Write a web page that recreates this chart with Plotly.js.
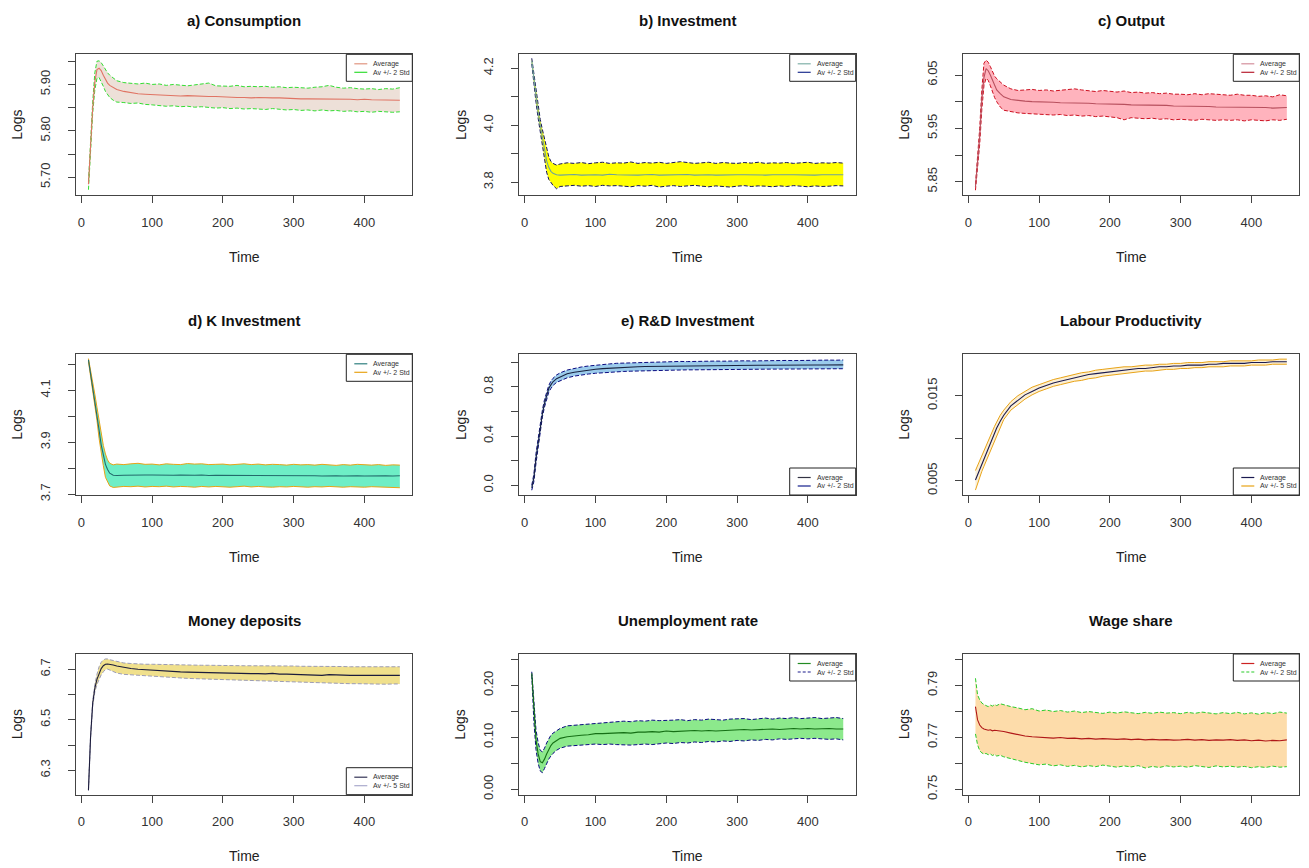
<!DOCTYPE html>
<html>
<head>
<meta charset="utf-8">
<script src="https://cdn.plot.ly/plotly-3.0.1.min.js"></script>
<style>html,body{margin:0;padding:0;background:#fff;}#chart{width:1309px;height:868px;}</style>
</head>
<body>
<div id="chart"></div>
<script>
// Simulation time steps (dense at the start, where the transients are fast)
const time = [10,13,16,19,22,25,28,31,34,37,40,45,50,
  60,70,80,90,100,110,120,130,140,150,
  160,170,180,190,200,210,220,230,240,250,
  260,270,280,290,300,310,320,330,340,350,
  360,370,380,390,400,410,420,430,440,450];
const timeTicks = [0,100,200,300,400];

// a) Consumption
const consumptionAvg = [5.685,5.78,5.85,5.905,5.932,5.935,5.93,5.92,5.91,5.903,5.898,5.893,5.889,
  5.885,5.882,5.880,5.879,5.878,5.877,5.876,5.875,5.875,5.876,
  5.875,5.875,5.874,5.874,5.873,5.873,5.872,5.872,5.871,5.872,
  5.871,5.871,5.871,5.870,5.870,5.869,5.869,5.869,5.868,5.869,
  5.868,5.868,5.868,5.867,5.868,5.867,5.867,5.866,5.867,5.866];
const consumptionUp = [5.69,5.79,5.862,5.925,5.950,5.951,5.947,5.94,5.932,5.925,5.92,5.913,5.908,
  5.904,5.903,5.901,5.903,5.900,5.901,5.898,5.900,5.899,5.897,
  5.899,5.901,5.903,5.897,5.897,5.896,5.898,5.895,5.896,5.895,
  5.896,5.894,5.895,5.893,5.894,5.893,5.892,5.894,5.895,5.898,
  5.894,5.892,5.893,5.891,5.890,5.891,5.889,5.891,5.890,5.893];
const consumptionLo = [5.673,5.77,5.838,5.888,5.913,5.915,5.907,5.896,5.885,5.877,5.872,5.866,5.862,
  5.861,5.859,5.860,5.857,5.856,5.855,5.853,5.854,5.852,5.853,
  5.851,5.852,5.850,5.849,5.850,5.848,5.849,5.847,5.848,5.847,
  5.846,5.848,5.846,5.845,5.846,5.844,5.845,5.843,5.845,5.843,
  5.844,5.842,5.843,5.841,5.842,5.840,5.842,5.841,5.840,5.841];
const consumptionTicks = [5.70,5.75,5.80,5.85,5.90,5.95];
const consumptionTickText = ['5.70','','5.80','','5.90',''];

// b) Investment
const investmentAvg = [4.225,4.16,4.10,4.045,4.0,3.955,3.91,3.875,3.852,3.838,3.831,3.826,3.825,
  3.826,3.827,3.825,3.826,3.826,3.825,3.828,3.826,3.825,3.826,
  3.825,3.826,3.827,3.825,3.826,3.825,3.826,3.827,3.825,3.826,
  3.826,3.825,3.826,3.825,3.826,3.826,3.825,3.826,3.825,3.826,
  3.825,3.826,3.826,3.825,3.826,3.825,3.826,3.825,3.826,3.826];
const investmentUp = [4.235,4.18,4.12,4.065,4.02,3.985,3.95,3.918,3.89,3.873,3.866,3.86,3.864,
  3.868,3.866,3.869,3.865,3.868,3.870,3.866,3.868,3.867,3.871,
  3.866,3.869,3.867,3.870,3.866,3.868,3.872,3.869,3.866,3.868,
  3.870,3.866,3.869,3.867,3.866,3.869,3.867,3.870,3.866,3.868,
  3.867,3.869,3.866,3.868,3.870,3.866,3.868,3.867,3.869,3.867];
const investmentLo = [4.215,4.14,4.08,4.025,3.975,3.93,3.875,3.835,3.81,3.797,3.789,3.777,3.785,
  3.787,3.789,3.786,3.788,3.785,3.789,3.787,3.788,3.786,3.784,
  3.788,3.786,3.789,3.783,3.786,3.788,3.785,3.787,3.789,3.786,
  3.784,3.787,3.785,3.783,3.786,3.788,3.785,3.787,3.786,3.784,
  3.787,3.785,3.788,3.786,3.784,3.787,3.785,3.786,3.788,3.787];
const investmentTicks = [3.8,3.9,4.0,4.1,4.2];
const investmentTickText = ['3.8','','4.0','','4.2'];

// c) Output
const outputAvg = [5.840,5.885,5.935,6.005,6.045,6.062,6.058,6.05,6.04,6.03,6.022,6.015,6.009,
  6.004,6.002,6.001,6.000,6.000,5.999,5.999,5.998,5.998,5.998,
  5.997,5.997,5.996,5.996,5.996,5.995,5.995,5.994,5.994,5.994,
  5.993,5.993,5.993,5.992,5.992,5.992,5.991,5.991,5.991,5.990,
  5.990,5.990,5.990,5.989,5.989,5.989,5.989,5.988,5.988,5.989];
const outputUp = [5.845,5.895,5.95,6.022,6.072,6.078,6.074,6.066,6.056,6.048,6.043,6.036,6.031,
  6.024,6.021,6.022,6.023,6.021,6.022,6.020,6.021,6.023,6.024,
  6.022,6.020,6.019,6.021,6.019,6.018,6.020,6.017,6.018,6.016,
  6.017,6.015,6.016,6.014,6.014,6.013,6.015,6.013,6.015,6.014,
  6.013,6.012,6.014,6.012,6.012,6.010,6.011,6.009,6.013,6.011];
const outputLo = [5.834,5.875,5.92,5.985,6.03,6.044,6.04,6.03,6.018,6.008,6.0,5.99,5.984,
  5.981,5.979,5.978,5.977,5.977,5.976,5.975,5.976,5.974,5.975,
  5.973,5.974,5.972,5.973,5.971,5.970,5.966,5.970,5.969,5.968,
  5.969,5.967,5.968,5.966,5.967,5.966,5.965,5.967,5.966,5.965,
  5.966,5.965,5.966,5.964,5.966,5.965,5.964,5.966,5.965,5.967];
const outputTicks = [5.85,5.90,5.95,6.00,6.05];
const outputTickText = ['5.85','','5.95','','6.05'];

// d) K Investment
const kInvAvg = [4.217,4.165,4.12,4.065,4.01,3.947,3.89,3.85,3.815,3.795,3.781,3.773,3.772,
  3.773,3.774,3.775,3.774,3.774,3.773,3.774,3.773,3.774,3.773,
  3.773,3.774,3.772,3.773,3.773,3.772,3.773,3.772,3.773,3.772,
  3.772,3.773,3.771,3.772,3.772,3.771,3.772,3.771,3.770,3.771,
  3.771,3.770,3.771,3.771,3.770,3.771,3.770,3.771,3.770,3.771];
const kInvUp = [4.222,4.18,4.135,4.085,4.035,3.98,3.925,3.888,3.855,3.832,3.819,3.813,3.816,
  3.814,3.817,3.819,3.815,3.816,3.813,3.817,3.815,3.814,3.818,
  3.816,3.817,3.814,3.815,3.816,3.813,3.815,3.817,3.814,3.816,
  3.813,3.815,3.814,3.812,3.815,3.813,3.814,3.812,3.815,3.813,
  3.811,3.814,3.812,3.815,3.813,3.812,3.814,3.811,3.813,3.812];
const kInvLo = [4.21,4.155,4.105,4.045,3.985,3.915,3.855,3.81,3.765,3.745,3.732,3.726,3.728,
  3.730,3.729,3.731,3.728,3.730,3.729,3.731,3.728,3.730,3.729,
  3.727,3.730,3.728,3.730,3.729,3.727,3.729,3.731,3.728,3.730,
  3.728,3.727,3.729,3.728,3.730,3.728,3.727,3.729,3.728,3.730,
  3.728,3.727,3.729,3.728,3.727,3.729,3.728,3.727,3.726,3.725];
const kInvTicks = [3.7,3.8,3.9,4.0,4.1,4.2];
const kInvTickText = ['3.7','','3.9','','4.1',''];

// e) R&D Investment
const rdAvg = [-0.02,0.06,0.22,0.35,0.47,0.58,0.665,0.73,0.785,0.815,0.84,0.865,0.88,
  0.905,0.918,0.928,0.936,0.942,0.947,0.951,0.955,0.958,0.961,
  0.962,0.964,0.965,0.966,0.967,0.968,0.969,0.969,0.970,0.971,
  0.971,0.972,0.972,0.973,0.973,0.973,0.974,0.974,0.974,0.975,
  0.975,0.975,0.975,0.976,0.976,0.976,0.976,0.977,0.977,0.977];
const rdUp = [0.0,0.09,0.26,0.39,0.5,0.61,0.695,0.76,0.81,0.845,0.868,0.895,0.912,
  0.935,0.950,0.960,0.968,0.975,0.980,0.985,0.990,0.992,0.995,
  0.997,0.999,1.000,1.002,1.003,1.002,1.005,1.004,1.006,1.007,
  1.006,1.008,1.007,1.009,1.009,1.010,1.009,1.011,1.010,1.012,
  1.011,1.013,1.012,1.014,1.013,1.015,1.014,1.016,1.015,1.017];
const rdLo = [-0.04,0.03,0.18,0.31,0.44,0.555,0.635,0.70,0.755,0.785,0.81,0.835,0.848,
  0.872,0.886,0.896,0.903,0.909,0.914,0.918,0.921,0.924,0.926,
  0.928,0.930,0.931,0.933,0.934,0.935,0.936,0.937,0.937,0.938,
  0.939,0.939,0.940,0.940,0.941,0.941,0.942,0.942,0.942,0.943,
  0.943,0.943,0.944,0.944,0.944,0.945,0.945,0.945,0.945,0.946];
const rdTicks = [0.0,0.2,0.4,0.6,0.8,1.0];
const rdTickText = ['0.0','','0.4','','0.8',''];

// Labour Productivity
const prodAvg = [0.00508,0.0057,0.0064,0.0070,0.0076,0.0082,0.0088,0.0094,0.0100,0.0106,0.0112,0.0120,0.0127,
  0.0138,0.0145,0.0151,0.0155,0.0159,0.0162,0.0165,0.0167,0.0169,0.0171,
  0.0173,0.0175,0.0176,0.0177,0.0178,0.0179,0.0180,0.0181,0.0182,0.0182,
  0.0183,0.0184,0.0184,0.0185,0.0185,0.0186,0.0186,0.0186,0.0187,0.0187,
  0.0188,0.0188,0.0188,0.0188,0.0189,0.0189,0.0189,0.0190,0.0190,0.0190];
const prodUp = [0.0062,0.0068,0.0074,0.0080,0.0086,0.0092,0.0098,0.0103,0.0109,0.0114,0.0119,0.0127,0.0133,
  0.0143,0.0150,0.0155,0.0160,0.0163,0.0166,0.0169,0.0171,0.0173,0.0175,
  0.0177,0.0178,0.0180,0.0181,0.0182,0.0183,0.0184,0.0184,0.0185,0.0186,
  0.0186,0.0187,0.0187,0.0188,0.0188,0.0189,0.0189,0.0189,0.0190,0.0190,
  0.0190,0.0191,0.0191,0.0191,0.0191,0.0192,0.0192,0.0192,0.0193,0.0193];
const prodLo = [0.0039,0.0047,0.0055,0.0061,0.0067,0.0073,0.0080,0.0086,0.0092,0.0098,0.0104,0.0114,0.0122,
  0.0133,0.0140,0.0146,0.0151,0.0155,0.0158,0.0161,0.0163,0.0165,0.0167,
  0.0168,0.0170,0.0171,0.0173,0.0174,0.0175,0.0176,0.0177,0.0178,0.0179,
  0.0179,0.0180,0.0181,0.0181,0.0182,0.0182,0.0183,0.0183,0.0184,0.0184,
  0.0184,0.0185,0.0185,0.0185,0.0186,0.0186,0.0186,0.0187,0.0187,0.0187];
const prodTicks = [0.005,0.010,0.015];
const prodTickText = ['0.005','','0.015'];

// Money deposits
const moneyAvg = [6.222,6.433,6.565,6.625,6.66,6.684,6.703,6.714,6.72,6.721,6.72,6.717,6.713,
  6.707,6.703,6.700,6.698,6.697,6.695,6.693,6.691,6.690,6.689,
  6.688,6.687,6.686,6.685,6.685,6.684,6.684,6.683,6.683,6.683,
  6.682,6.684,6.681,6.681,6.680,6.679,6.679,6.678,6.676,6.679,
  6.677,6.677,6.676,6.676,6.676,6.676,6.676,6.676,6.676,6.676];
const moneyUp = [6.226,6.44,6.575,6.64,6.68,6.71,6.728,6.737,6.741,6.741,6.738,6.734,6.730,
  6.725,6.723,6.721,6.720,6.720,6.719,6.718,6.718,6.717,6.717,
  6.716,6.716,6.716,6.715,6.715,6.715,6.714,6.714,6.714,6.714,
  6.713,6.714,6.713,6.715,6.713,6.712,6.712,6.711,6.712,6.714,
  6.711,6.711,6.710,6.710,6.710,6.710,6.710,6.711,6.710,6.710];
const moneyLo = [6.218,6.426,6.555,6.61,6.64,6.66,6.678,6.69,6.699,6.701,6.697,6.690,6.685,
  6.680,6.678,6.676,6.675,6.674,6.672,6.670,6.668,6.666,6.664,
  6.663,6.662,6.660,6.659,6.658,6.657,6.656,6.655,6.654,6.653,
  6.652,6.653,6.651,6.650,6.649,6.648,6.647,6.646,6.645,6.646,
  6.644,6.644,6.643,6.643,6.642,6.642,6.642,6.641,6.642,6.642];
const moneyTicks = [6.3,6.4,6.5,6.6,6.7];
const moneyTickText = ['6.3','','6.5','','6.7'];

// Unemployment rate
const unempAvg = [0.223,0.146,0.095,0.068,0.053,0.051,0.058,0.068,0.077,0.084,0.089,0.094,0.098,
  0.101,0.103,0.104,0.105,0.107,0.107,0.108,0.109,0.109,0.108,
  0.110,0.110,0.111,0.110,0.112,0.111,0.112,0.112,0.113,0.112,
  0.113,0.112,0.113,0.114,0.114,0.115,0.114,0.115,0.115,0.116,
  0.115,0.116,0.117,0.116,0.117,0.116,0.117,0.117,0.116,0.116];
const unempUp = [0.226,0.16,0.114,0.09,0.075,0.072,0.079,0.089,0.097,0.104,0.108,0.113,0.117,
  0.122,0.123,0.125,0.126,0.127,0.128,0.129,0.130,0.131,0.130,
  0.132,0.131,0.133,0.132,0.132,0.133,0.134,0.132,0.134,0.133,
  0.135,0.134,0.133,0.135,0.135,0.136,0.134,0.136,0.137,0.135,
  0.137,0.136,0.138,0.136,0.137,0.138,0.136,0.137,0.138,0.136];
const unempLo = [0.220,0.13,0.076,0.05,0.035,0.032,0.04,0.05,0.058,0.064,0.069,0.075,0.079,
  0.083,0.084,0.085,0.086,0.087,0.086,0.087,0.086,0.085,0.085,
  0.086,0.087,0.086,0.088,0.089,0.088,0.090,0.089,0.091,0.090,
  0.092,0.091,0.093,0.092,0.094,0.093,0.095,0.094,0.096,0.095,
  0.097,0.096,0.097,0.098,0.097,0.098,0.097,0.096,0.097,0.095];
const unempTicks = [0.00,0.05,0.10,0.15,0.20,0.25];
const unempTickText = ['0.00','','0.10','','0.20',''];

// Wage share
const wageAvg = [0.7818,0.7767,0.7747,0.7737,0.7732,0.7730,0.7727,0.7729,0.7725,0.7727,0.7726,0.7724,0.7722,
  0.7716,0.7710,0.7705,0.7702,0.7700,0.7698,0.7697,0.7699,0.7696,0.7697,
  0.7694,0.7696,0.7693,0.7695,0.7694,0.7692,0.7694,0.7691,0.7693,0.7690,
  0.7692,0.7690,0.7691,0.7689,0.7690,0.7692,0.7689,0.7691,0.7688,0.7690,
  0.7689,0.7691,0.7688,0.7690,0.7687,0.7689,0.7686,0.7688,0.7687,0.7690];
const wageUp = [0.7927,0.7863,0.7844,0.7832,0.7826,0.7822,0.7818,0.7824,0.7820,0.7826,0.7822,0.7829,0.7825,
  0.7818,0.7813,0.7806,0.7810,0.7801,0.7805,0.7799,0.7803,0.7797,0.7801,
  0.7795,0.7799,0.7796,0.7792,0.7797,0.7793,0.7798,0.7794,0.7791,0.7796,
  0.7792,0.7797,0.7793,0.7795,0.7791,0.7796,0.7792,0.7797,0.7793,0.7790,
  0.7795,0.7791,0.7796,0.7790,0.7794,0.7789,0.7795,0.7791,0.7797,0.7793];
const wageLo = [0.7713,0.7671,0.7649,0.7640,0.7636,0.7638,0.7633,0.7636,0.7630,0.7634,0.7628,0.7631,0.7625,
  0.7617,0.7611,0.7604,0.7598,0.7594,0.7597,0.7590,0.7594,0.7588,0.7592,
  0.7586,0.7591,0.7587,0.7593,0.7589,0.7585,0.7590,0.7586,0.7591,0.7582,
  0.7588,0.7584,0.7590,0.7586,0.7589,0.7585,0.7591,0.7587,0.7584,0.7590,
  0.7586,0.7589,0.7585,0.7588,0.7583,0.7587,0.7584,0.7589,0.7585,0.7587];
const wageTicks = [0.75,0.76,0.77,0.78,0.79,0.80];
const wageTickText = ['0.75','','0.77','','0.79',''];

// Panel settings: series, axis range and colours for each of the nine plots
const panels = [
  {title:'a) Consumption', avg:consumptionAvg, up:consumptionUp, lo:consumptionLo, range:[5.661,5.965],
   ticks:consumptionTicks, tickText:consumptionTickText, std:'Av +/- 2 Std', leg:'top',
   fill:'#EDE0D8', band:'#33DD33', bandDash:'4px,2px', mean:'#E07464', legAvg:'#E0957F', legBand:'#33DD33', legDash:false},
  {title:'b) Investment', avg:investmentAvg, up:investmentUp, lo:investmentLo, range:[3.754,4.249],
   ticks:investmentTicks, tickText:investmentTickText, std:'Av +/- 2 Std', leg:'top',
   fill:'#FFFF00', band:'#12125E', bandDash:'4px,2px', mean:'#6FA39A', legAvg:'#7FB0A8', legBand:'#1F2F8F', legDash:false},
  {title:'c) Output', avg:outputAvg, up:outputUp, lo:outputLo, range:[5.8245,6.0888],
   ticks:outputTicks, tickText:outputTickText, std:'Av +/- 2 Std', leg:'top',
   fill:'#FFB3BD', band:'#CC1020', bandDash:'4px,2px', mean:'#B8505E', legAvg:'#D4909C', legBand:'#B82030', legDash:false},
  {title:'d) K Investment', avg:kInvAvg, up:kInvUp, lo:kInvLo, range:[3.697,4.2385],
   ticks:kInvTicks, tickText:kInvTickText, std:'Av +/- 2 Std', leg:'top',
   fill:'#6EEEC6', band:'#E8A317', bandDash:'solid', mean:'#236B6B', legAvg:'#2E7F7F', legBand:'#E8A317', legDash:false},
  {title:'e) R&D Investment', avg:rdAvg, up:rdUp, lo:rdLo, range:[-0.0787,1.063],
   ticks:rdTicks, tickText:rdTickText, std:'Av +/- 2 Std', leg:'bottom',
   fill:'#9BCBEB', band:'#0A0A80', bandDash:'4px,2px', mean:'#1A2340', legAvg:'#333344', legBand:'#141E8C', legDash:false},
  {title:'Labour Productivity', avg:prodAvg, up:prodUp, lo:prodLo, range:[0.00332,0.01987],
   ticks:prodTicks, tickText:prodTickText, std:'Av +/- 5 Std', leg:'bottom',
   fill:'#FBEFD5', band:'#E8A317', bandDash:'solid', mean:'#1A1A50', legAvg:'#1A1A50', legBand:'#E8A317', legDash:false},
  {title:'Money deposits', avg:moneyAvg, up:moneyUp, lo:moneyLo, range:[6.2034,6.7606],
   ticks:moneyTicks, tickText:moneyTickText, std:'Av +/- 5 Std', leg:'bottom',
   fill:'#F0E08C', band:'#9C9CB4', bandDash:'4px,2px', mean:'#1C1C3C', legAvg:'#333355', legBand:'#AAAACC', legDash:false},
  {title:'Unemployment rate', avg:unempAvg, up:unempUp, lo:unempLo, range:[-0.0104,0.2602],
   ticks:unempTicks, tickText:unempTickText, std:'Av +/- 2 Std', leg:'top',
   fill:'#8CE98C', band:'#0A0A80', bandDash:'4px,2px', mean:'#156F15', legAvg:'#228B22', legBand:'#1A1A8C', legDash:true},
  {title:'Wage share', avg:wageAvg, up:wageUp, lo:wageLo, range:[0.74792,0.80204],
   ticks:wageTicks, tickText:wageTickText, std:'Av +/- 2 Std', leg:'top',
   fill:'#FDDCAA', band:'#2ACC2A', bandDash:'4px,2px', mean:'#B01818', legAvg:'#CC2222', legBand:'#2ACC2A', legDash:true}
];

const W = 1309, H = 868;
// Plot frames in pixels: [left, right] per column, [top, bottom] per row
const COLS = [[76,412.3],[519.3,855.7],[963,1299.3]];
const ROWS = [[54.3,195.3],[354.3,495],[654,794.7]];
const fx = x => x / W;
const fy = y => 1 - y / H;

const FONT = 'Liberation Sans, Arial, Helvetica, sans-serif';
const traces = [], shapes = [], annotations = [];
const layout = {
  width: W, height: H,
  margin: {l:0, r:0, t:0, b:0},
  showlegend: false,
  paper_bgcolor: '#fff', plot_bgcolor: '#fff',
  font: {family: FONT, color: '#222'}
};

const axisBase = {
  ticks: 'outside', ticklen: 7, tickwidth: 1, tickcolor: '#444',
  showline: true, mirror: true, linecolor: '#444', linewidth: 1,
  showgrid: false, zeroline: false, fixedrange: true,
  tickfont: {family: FONT, size: 13, color: '#333'}
};

panels.forEach((p, i) => {
  const n = i + 1;
  const col = COLS[i % 3], row = ROWS[Math.floor(i / 3)];
  const sfx = n > 1 ? String(n) : '';
  const xa = 'x' + sfx, ya = 'y' + sfx;

  layout['xaxis' + sfx] = Object.assign({}, axisBase, {
    domain: [fx(col[0]), fx(col[1])], anchor: ya, range: [-7.6, 467.6],
    tickmode: 'array', tickvals: timeTicks, ticktext: timeTicks.map(String),
    ticklabelstandoff: 8
  });
  layout['yaxis' + sfx] = Object.assign({}, axisBase, {
    domain: [fy(row[1]), fy(row[0])], anchor: xa, range: p.range,
    tickmode: 'array', tickvals: p.ticks, ticktext: p.tickText,
    tickangle: -90, ticklabelstandoff: 13
  });

  // band: lower edge, upper edge filled down to the lower edge, then the average
  traces.push({x: time, y: p.lo, xaxis: xa, yaxis: ya, type: 'scatter', mode: 'lines',
    line: {color: p.band, width: 1, dash: p.bandDash}, hoverinfo: 'skip'});
  traces.push({x: time, y: p.up, xaxis: xa, yaxis: ya, type: 'scatter', mode: 'lines',
    fill: 'tonexty', fillcolor: p.fill,
    line: {color: p.band, width: 1, dash: p.bandDash}, hoverinfo: 'skip'});
  traces.push({x: time, y: p.avg, xaxis: xa, yaxis: ya, type: 'scatter', mode: 'lines',
    line: {color: p.mean, width: 1.1}, name: 'Average'});

  const cx = (col[0] + col[1]) / 2, cy = (row[0] + row[1]) / 2;
  annotations.push({xref:'paper', yref:'paper', x: fx(cx), y: fy(row[0] - 34),
    text: '<b>' + p.title + '</b>', showarrow: false, xanchor: 'center', yanchor: 'middle',
    font: {family: FONT, size: 15, color: '#111'}});
  annotations.push({xref:'paper', yref:'paper', x: fx(cx), y: fy(row[1] + 61.5),
    text: 'Time', showarrow: false, xanchor: 'center', yanchor: 'middle',
    font: {family: FONT, size: 14, color: '#222'}});
  annotations.push({xref:'paper', yref:'paper', x: fx(col[0] - 59), y: fy(cy),
    text: 'Logs', showarrow: false, textangle: -90, xanchor: 'center', yanchor: 'middle',
    font: {family: FONT, size: 14, color: '#222'}});

  // small boxed key in the corner of the frame
  const LW = 66, LH = 27;
  const lx0 = col[1] - LW;
  const ly0 = p.leg === 'top' ? row[0] : row[1] - LH;
  shapes.push({type:'rect', xref:'paper', yref:'paper', x0: fx(lx0), x1: fx(col[1]),
    y0: fy(ly0 + LH), y1: fy(ly0), line: {color:'#222', width:1}, fillcolor:'#fff'});
  [[p.legAvg, false, 'Average', 9.5], [p.legBand, p.legDash, p.std, 18]].forEach(([c, d, t, dy]) => {
    shapes.push({type:'line', xref:'paper', yref:'paper', x0: fx(lx0 + 8), x1: fx(lx0 + 21),
      y0: fy(ly0 + dy), y1: fy(ly0 + dy), line: {color: c, width: 1.2, dash: d ? '3px,2px' : 'solid'}});
    annotations.push({xref:'paper', yref:'paper', x: fx(lx0 + 25), y: fy(ly0 + dy),
      text: t, showarrow: false, xanchor: 'left', yanchor: 'middle',
      font: {family: FONT, size: 7, color: '#333'}});
  });
});

layout.shapes = shapes;
layout.annotations = annotations;

Plotly.newPlot('chart', traces, layout, {displayModeBar: false, staticPlot: true});
</script>
</body>
</html>
